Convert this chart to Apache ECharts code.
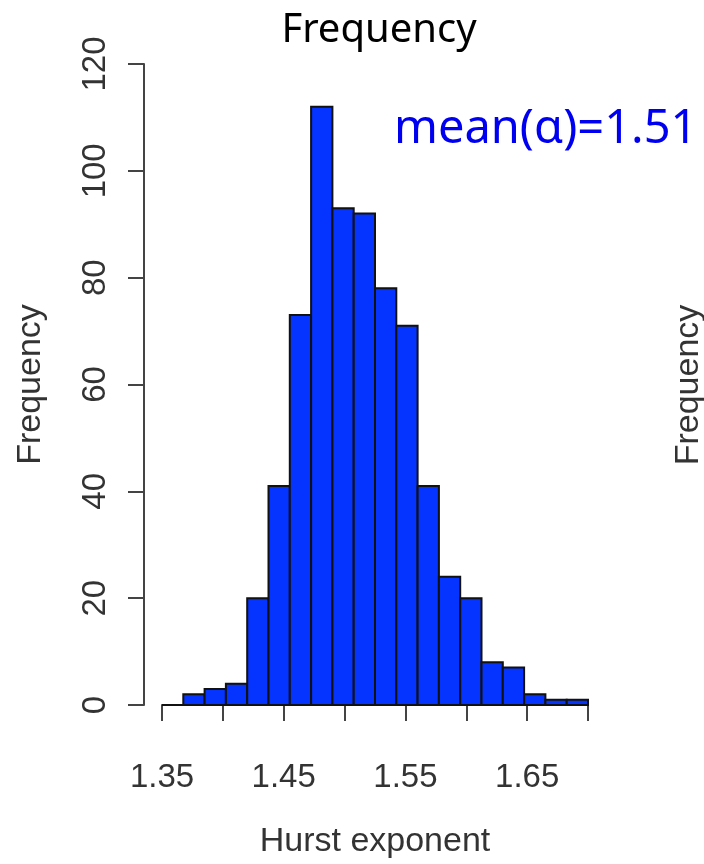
<!DOCTYPE html>
<html><head><meta charset="utf-8">
<script src="https://cdn.jsdelivr.net/npm/echarts@6/dist/echarts.min.js"></script>
<style>html,body{margin:0;padding:0;background:#fff}#c{width:704px;height:864px}</style>
</head><body><div id="c"></div>
<script>
// Histogram bin edges (Hurst exponent) and counts
const binEdges = [1.35, 1.3675, 1.385, 1.4025, 1.42, 1.4375, 1.455, 1.4725, 1.49, 1.5075, 1.525,
                  1.5425, 1.56, 1.5775, 1.595, 1.6125, 1.63, 1.6475, 1.665, 1.6825, 1.70];
const counts = [0, 2, 3, 4, 20, 41, 73, 112, 93, 92, 78, 71, 41, 24, 20, 8, 7, 2, 1, 1];
const xTicks = [1.35, 1.40, 1.45, 1.50, 1.55, 1.60, 1.65, 1.70];
const xLabels = ['1.35', '', '1.45', '', '1.55', '', '1.65', ''];
const yTicks = [0, 20, 40, 60, 80, 100, 120];
const titleText = 'Frequency';
const xName = 'Hurst exponent';
const yName = 'Frequency';
const meanText = 'mean(α)=1.51';

const data = counts.map((c, i) => [binEdges[i], binEdges[i + 1], c]);

const chart = echarts.init(document.getElementById('c'), null, {renderer: 'canvas'});
const axisFont = 'Liberation Sans, Arial, sans-serif';
chart.setOption({
  animation: false,
  backgroundColor: '#fff',
  title: {
    text: titleText, left: 374, top: 6, textAlign: 'center',
    textStyle: {fontFamily: 'Noto Sans', fontWeight: 'normal', fontSize: 40, color: '#000'}
  },
  grid: {left: 162, right: 116, top: 64, bottom: 156},
  xAxis: {
    type: 'value', min: xTicks[0], max: xTicks[xTicks.length - 1], interval: 0.05,
    offset: 25,
    name: xName, nameLocation: 'middle', nameGap: 95,
    nameTextStyle: {fontFamily: axisFont, fontSize: 34, color: '#333'},
    axisLine: {show: true, lineStyle: {color: '#444', width: 2}},
    axisTick: {show: true, length: 16, lineStyle: {color: '#444', width: 2}},
    axisLabel: {
      margin: 31, fontFamily: axisFont, fontSize: 33, color: '#333',
      formatter: function (v) {
        let best = 0, bd = 1e9;
        xTicks.forEach((t, i) => { const d = Math.abs(t - v); if (d < bd) { bd = d; best = i; } });
        return xLabels[best];
      }
    },
    splitLine: {show: false}
  },
  yAxis: {
    type: 'value', min: yTicks[0], max: yTicks[yTicks.length - 1], interval: 20,
    offset: 18,
    name: yName, nameLocation: 'middle', nameGap: 96,
    nameTextStyle: {fontFamily: axisFont, fontSize: 34, color: '#333'},
    axisLine: {show: true, lineStyle: {color: '#444', width: 2}},
    axisTick: {show: true, length: 16, lineStyle: {color: '#444', width: 2}},
    axisLabel: {rotate: 90, margin: 32, fontFamily: axisFont, fontSize: 33, color: '#333'},
    splitLine: {show: false}
  },
  graphic: [
    {type: 'text', left: 394, top: 106, style: {text: meanText, fontFamily: 'Noto Sans', fontSize: 47, fill: '#0000f0'}},
    {type: 'text', x: 672, y: 385, rotation: Math.PI / 2,
     style: {text: yName, fontFamily: axisFont, fontSize: 34, fill: '#333', align: 'center', verticalAlign: 'top'}}
  ],
  series: [{
    type: 'custom',
    data: data,
    encode: {x: [0, 1], y: 2},
    renderItem: function (params, api) {
      const p0 = api.coord([api.value(0), 0]);
      const p1 = api.coord([api.value(1), api.value(2)]);
      return {
        type: 'rect',
        shape: {x: p0[0], y: p1[1], width: p1[0] - p0[0], height: p0[1] - p1[1]},
        style: {fill: '#0533ff', stroke: '#111', lineWidth: 2}
      };
    }
  }]
});
</script></body></html>
